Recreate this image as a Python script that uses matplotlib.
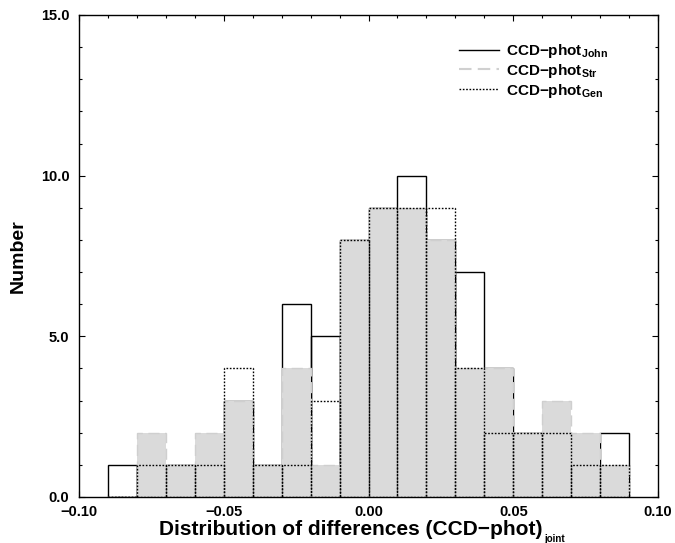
import numpy as np
import matplotlib
matplotlib.use("Agg")
import matplotlib.pyplot as plt
from matplotlib.lines import Line2D
from matplotlib.ticker import MultipleLocator, FuncFormatter

plt.rcParams['font.family'] = ['Liberation Sans', 'DejaVu Sans']
plt.rcParams['font.weight'] = 'bold'
plt.rcParams['mathtext.fontset'] = 'custom'
plt.rcParams['mathtext.rm'] = 'Liberation Sans:bold'
plt.rcParams['mathtext.it'] = 'Liberation Sans:bold'
plt.rcParams['mathtext.bf'] = 'Liberation Sans:bold'
plt.rcParams['axes.unicode_minus'] = True

# bin edges (width 0.01) from -0.09 to 0.09
bin_edges = np.round(np.arange(-0.09, 0.0901, 0.01), 3)
bin_width = 0.01
john = [1, 1, 1, 1, 3, 1, 6, 5, 8, 9, 10, 8, 7, 4, 2, 2, 1, 2]
strm = [0, 2, 1, 2, 3, 1, 4, 1, 8, 9, 9, 8, 4, 4, 2, 3, 2, 1]
gen  = [0, 1, 1, 1, 4, 1, 1, 3, 8, 9, 9, 9, 4, 2, 2, 2, 1, 1]
labels = [r'CCD$-$phot$_{\rm John}$', r'CCD$-$phot$_{\rm Str}$', r'CCD$-$phot$_{\rm Gen}$']
xticks = [-0.10, -0.05, 0.00, 0.05, 0.10]
yticks = [0.0, 5.0, 10.0, 15.0]

fig = plt.figure(figsize=(6.75, 5.43), dpi=100)
ax = fig.add_axes([79/675, 1 - 497/543, (658-79)/675, (497-15)/543])

lefts = bin_edges[:-1]
ax.bar(lefts, john, width=bin_width, align='edge', fill=False,
       edgecolor='black', linewidth=1.0, zorder=1)
ax.bar(lefts, strm, width=bin_width, align='edge', color='#dadada',
       edgecolor='none', linewidth=0, zorder=2)
ax.bar(lefts, strm, width=bin_width, align='edge', fill=False,
       edgecolor='#cfcfcf', linewidth=1.0, linestyle=(0, (8, 4)), zorder=3)
ax.bar(lefts, gen, width=bin_width, align='edge', fill=False,
       edgecolor='black', linewidth=1.0, linestyle=(0, (1.2, 1.2)), zorder=4)

ax.set_xlim(-0.10, 0.10)
ax.set_ylim(0, 15)
ax.set_xticks(xticks)
ax.set_yticks(yticks)
ax.xaxis.set_major_formatter(FuncFormatter(lambda v, p: f'{v:.2f}'.replace('-', '\u2212') if abs(v) > 1e-9 else '0.00'))
ax.yaxis.set_major_formatter(FuncFormatter(lambda v, p: f'{v:.1f}'))
ax.xaxis.set_minor_locator(MultipleLocator(0.01))
ax.yaxis.set_minor_locator(MultipleLocator(1))
ax.tick_params(which='both', direction='in', top=True, right=True, width=0.8)
ax.tick_params(which='major', length=4.5)
ax.tick_params(which='minor', length=2.3)
ax.tick_params(axis='x', which='major', pad=5.5, labelsize=10.5)
ax.tick_params(axis='y', which='major', pad=7, labelsize=10.5)
for lab in ax.get_xticklabels() + ax.get_yticklabels():
    lab.set_fontweight('bold')
for sp in ax.spines.values():
    sp.set_linewidth(1.0)

ax.set_xlabel('Distribution of differences (CCD\u2212phot)',
              fontsize=15, fontweight='bold', va='baseline')
ax.xaxis.set_label_coords((351 - 79) / 579, (497 - 535) / 482)
ax.annotate('joint', xy=(1, 0), xycoords=ax.xaxis.label,
            xytext=(1.0, -2.5), textcoords='offset points',
            fontsize=7, fontweight='bold', ha='left', va='baseline')
ax.set_ylabel('Number', fontsize=14, fontweight='bold', labelpad=10)

handles = [Line2D([], [], color='black', lw=1.0),
           Line2D([], [], color='#d0d0d0', lw=1.5, linestyle=(0, (6, 3))),
           Line2D([], [], color='black', lw=1.0, linestyle=(0, (1.2, 1.2)))]
leg = ax.legend(handles, labels, loc='upper left', frameon=False,
                bbox_to_anchor=(459/675, 1 - 42/543), bbox_transform=fig.transFigure,
                borderpad=0, borderaxespad=0, handlelength=2.6, handletextpad=0.5,
                labelspacing=0.12, prop={'size': 11, 'weight': 'bold'})

fig.savefig('out.png', dpi=100)
